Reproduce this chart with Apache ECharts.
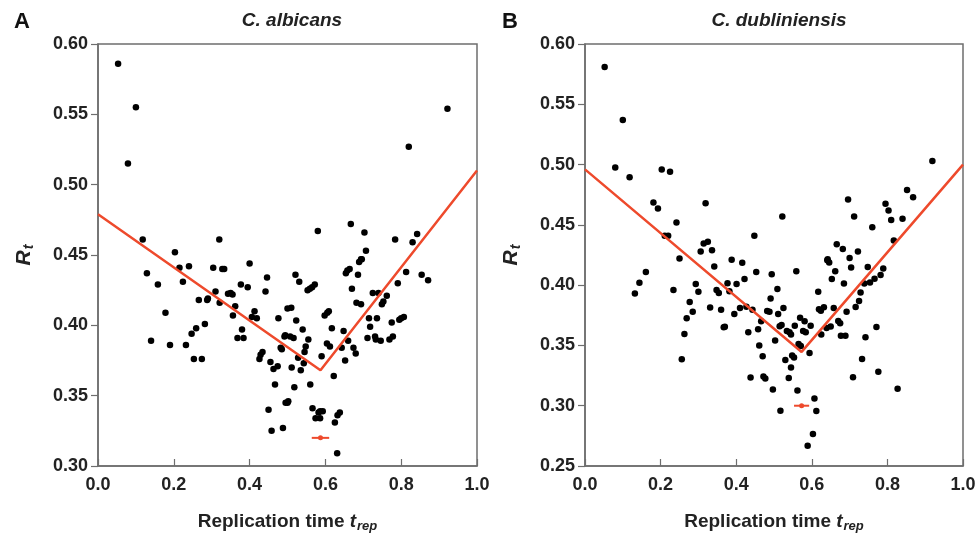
<!DOCTYPE html>
<html>
<head>
<meta charset="utf-8">
<script src="https://cdn.jsdelivr.net/npm/echarts@6/dist/echarts.min.js"></script>
<style>
  html, body { margin: 0; padding: 0; background: #fff; }
  #chart { width: 979px; height: 540px; }
</style>
</head>
<body>
<div id="chart"></div>
<script>
// panel A: C. albicans  [t_rep, R_t]
const albicansPts = [
  [0.053,0.586],[0.10,0.555],[0.079,0.515],[0.118,0.461],[0.203,0.452],[0.32,0.461],
  [0.922,0.554],[0.82,0.527],[0.58,0.467],[0.667,0.472],[0.703,0.466],[0.784,0.461],
  [0.842,0.465],[0.83,0.459],[0.707,0.453],[0.696,0.447],
  [0.129,0.437],[0.215,0.441],[0.24,0.442],[0.224,0.431],[0.158,0.429],[0.304,0.441],
  [0.328,0.440],[0.333,0.440],[0.40,0.444],[0.446,0.434],[0.377,0.429],[0.395,0.427],
  [0.442,0.424],[0.31,0.424],[0.343,0.4225],[0.35,0.423],[0.355,0.422],[0.29,0.419],
  [0.288,0.418],[0.266,0.418],[0.321,0.416],[0.362,0.4135],[0.356,0.407],[0.413,0.410],
  [0.406,0.406],[0.419,0.405],[0.476,0.405],[0.50,0.412],[0.178,0.409],[0.282,0.401],
  [0.259,0.398],[0.247,0.394],[0.38,0.397],[0.368,0.391],[0.384,0.391],[0.14,0.389],
  [0.19,0.386],[0.232,0.386],[0.253,0.376],[0.274,0.376],[0.482,0.384],[0.485,0.383],
  [0.492,0.392],[0.434,0.381],[0.429,0.379],[0.426,0.376],[0.455,0.374],
  [0.463,0.369],[0.474,0.371],[0.467,0.358],[0.495,0.345],[0.45,0.340],[0.458,0.325],
  [0.488,0.327],
  [0.521,0.436],[0.531,0.431],[0.553,0.425],[0.559,0.426],[0.565,0.427],[0.572,0.429],
  [0.51,0.4125],[0.523,0.4035],[0.494,0.393],[0.507,0.392],[0.516,0.391],[0.54,0.397],
  [0.555,0.390],[0.548,0.385],[0.545,0.381],[0.528,0.377],[0.543,0.373],[0.511,0.370],
  [0.535,0.368],[0.56,0.358],[0.518,0.356],[0.50,0.345],[0.502,0.346],[0.566,0.341],
  [0.582,0.338],[0.586,0.339],[0.593,0.339],[0.574,0.334],[0.586,0.334],[0.625,0.331],
  [0.632,0.336],[0.638,0.338],[0.631,0.309],[0.59,0.378],[0.622,0.364],[0.604,0.387],
  [0.612,0.385],[0.598,0.407],[0.605,0.409],[0.609,0.41],[0.617,0.398],[0.643,0.384],
  [0.652,0.375],[0.648,0.396],[0.66,0.389],[0.674,0.384],[0.68,0.380],[0.654,0.437],
  [0.658,0.439],[0.664,0.440],[0.67,0.426],[0.686,0.436],[0.689,0.445],[0.694,0.447],
  [0.682,0.416],[0.694,0.415],[0.715,0.405],[0.718,0.399],[0.711,0.391],[0.736,0.405],
  [0.731,0.392],[0.733,0.39],[0.746,0.389],[0.725,0.423],[0.74,0.423],[0.749,0.415],
  [0.753,0.417],[0.762,0.421],[0.769,0.39],[0.778,0.392],[0.775,0.402],[0.795,0.404],
  [0.80,0.405],[0.807,0.406],[0.791,0.43],[0.813,0.438],[0.854,0.436],[0.871,0.432]
];
const albicansFit = [[0, 0.479], [0.587, 0.368], [1.0, 0.51]];
const albicansErr = { center: 0.587, half: 0.023, y: 0.32 };

// panel B: C. dubliniensis  [t_rep, R_t]
const dubliPts = [
  [0.052,0.581],[0.10,0.537],[0.08,0.4975],[0.118,0.4895],[0.203,0.496],[0.225,0.494],
  [0.181,0.4686],[0.193,0.4635],[0.319,0.468],[0.242,0.452],[0.211,0.441],[0.22,0.441],
  [0.448,0.441],[0.314,0.4345],[0.325,0.436],[0.306,0.428],[0.336,0.429],[0.25,0.422],
  [0.388,0.421],
  [0.919,0.503],[0.522,0.457],[0.696,0.471],[0.712,0.457],[0.795,0.4675],[0.803,0.462],
  [0.81,0.454],[0.84,0.455],[0.852,0.479],[0.868,0.473],[0.76,0.448],[0.817,0.437],
  [0.666,0.434],[0.682,0.430],[0.722,0.428],[0.642,0.4215],[0.70,0.4225],
  [0.132,0.393],[0.144,0.402],[0.161,0.411],[0.234,0.396],[0.342,0.4155],[0.416,0.4185],
  [0.422,0.405],[0.453,0.411],[0.293,0.401],[0.30,0.3945],[0.377,0.4015],[0.401,0.401],
  [0.348,0.396],[0.354,0.3935],[0.382,0.395],[0.277,0.386],[0.285,0.378],[0.269,0.3725],
  [0.331,0.3815],[0.36,0.3795],[0.395,0.376],[0.41,0.381],[0.427,0.382],[0.443,0.3795],
  [0.482,0.3785],[0.466,0.37],[0.367,0.365],[0.37,0.3655],[0.432,0.361],[0.458,0.3635],
  [0.263,0.3595],[0.461,0.35],[0.47,0.341],[0.256,0.3386],[0.438,0.3234],[0.472,0.3242],
  [0.477,0.3226],
  [0.494,0.409],[0.509,0.3967],[0.491,0.389],[0.488,0.378],[0.511,0.376],[0.525,0.381],
  [0.515,0.366],[0.52,0.367],[0.503,0.354],[0.497,0.3135],[0.517,0.2959],[0.53,0.338],
  [0.545,0.3317],[0.548,0.3416],[0.553,0.34],[0.539,0.3229],[0.534,0.362],[0.541,0.361],
  [0.545,0.359],[0.555,0.3664],[0.559,0.4116],[0.569,0.373],[0.581,0.37],[0.577,0.362],
  [0.584,0.361],[0.597,0.3664],[0.565,0.3512],[0.571,0.3496],[0.594,0.3438],[0.562,0.3127],
  [0.607,0.306],[0.612,0.2956],[0.603,0.2766],[0.589,0.2667],[0.617,0.3945],[0.619,0.380],
  [0.624,0.3788],[0.632,0.3816],[0.625,0.359],[0.639,0.3645],[0.65,0.3656],[0.658,0.381],
  [0.67,0.3702],[0.675,0.3683],[0.677,0.358],[0.689,0.358],[0.692,0.378],[0.653,0.405],
  [0.662,0.4116],[0.641,0.4207],[0.646,0.4188],[0.685,0.4014],[0.704,0.4146],[0.748,0.4151],
  [0.739,0.4014],[0.754,0.4022],[0.766,0.4052],[0.782,0.4085],[0.789,0.4138],[0.729,0.394],
  [0.725,0.3868],[0.716,0.3818],[0.771,0.3653],[0.742,0.3568],[0.733,0.3388],[0.709,0.3237],
  [0.776,0.3281],[0.827,0.3140]
];
const dubliFit = [[0, 0.496], [0.573, 0.3446], [1.0, 0.50]];
const dubliErr = { center: 0.573, half: 0.02, y: 0.30 };

const panelTitles = ['C. albicans', 'C. dubliniensis'];
const panelLetters = ['A', 'B'];
const xTicks = ['0.0', '0.2', '0.4', '0.6', '0.8', '1.0'];

const FONT = '"Liberation Sans Narrow", "Liberation Sans", Arial, sans-serif';
const RED = '#ee4a2c';
const AXIS_GREY = '#6e6e6e';

var chart = echarts.init(document.getElementById('chart'));

function xAxisFor(i) {
  return {
    type: 'value', gridIndex: i, min: 0, max: 1, interval: 0.2,
    name: '{n|Replication time }{t|t}{s|rep}',
    nameLocation: 'middle', nameGap: 44,
    nameTextStyle: {
      rich: {
        n: { fontFamily: FONT, fontWeight: 'bold', fontSize: 19, color: '#222' },
        t: { fontFamily: FONT, fontWeight: 'bold', fontStyle: 'italic', fontSize: 19, color: '#222' },
        s: { fontFamily: FONT, fontWeight: 'bold', fontStyle: 'italic', fontSize: 13, color: '#222', padding: [10, 0, 0, 1] }
      }
    },
    axisLine: { onZero: false, lineStyle: { color: AXIS_GREY, width: 1.5 } },
    axisTick: { inside: true, length: 7, lineStyle: { color: AXIS_GREY, width: 1.2 } },
    axisLabel: {
      fontFamily: FONT, fontWeight: 'bold', fontSize: 18, color: '#222', margin: 10,
      formatter: v => xTicks[Math.round(v * 5)]
    },
    splitLine: { show: false }
  };
}

function yAxisFor(i, min, max) {
  return {
    type: 'value', gridIndex: i, min: min, max: max, interval: 0.05,
    name: '{r|R}{s|t}', nameLocation: 'middle', nameGap: 62, nameRotate: 90,
    nameTextStyle: {
      rich: {
        r: { fontFamily: FONT, fontWeight: 'bold', fontStyle: 'italic', fontSize: 21, color: '#222' },
        s: { fontFamily: FONT, fontWeight: 'bold', fontStyle: 'italic', fontSize: 14, color: '#222', padding: [10, 0, 0, 1] }
      }
    },
    axisLine: { onZero: false, lineStyle: { color: AXIS_GREY, width: 1.5 } },
    axisTick: { inside: false, length: 7, lineStyle: { color: AXIS_GREY, width: 1.2 } },
    axisLabel: {
      fontFamily: FONT, fontWeight: 'bold', fontSize: 18, color: '#222', margin: 10,
      formatter: v => v.toFixed(2)
    },
    splitLine: { show: false }
  };
}

function panelSeries(i, pts, fit, err) {
  return [
    {
      type: 'scatter', xAxisIndex: i, yAxisIndex: i, data: pts,
      symbolSize: 6.5, itemStyle: { color: '#000', opacity: 1 }, z: 3
    },
    {
      type: 'line', xAxisIndex: i, yAxisIndex: i, data: fit,
      symbol: 'none', lineStyle: { color: RED, width: 2.5 }, z: 4
    },
    {
      type: 'line', xAxisIndex: i, yAxisIndex: i,
      data: [[err.center - err.half, err.y], [err.center + err.half, err.y]],
      symbol: 'none', lineStyle: { color: RED, width: 2 }, z: 4
    },
    {
      type: 'scatter', xAxisIndex: i, yAxisIndex: i, data: [[err.center, err.y]],
      symbolSize: 5, itemStyle: { color: RED, opacity: 1 }, z: 5
    }
  ];
}

chart.setOption({
  backgroundColor: '#fff',
  animation: false,
  title: [
    { text: panelTitles[0], left: 287, top: 6, textAlign: 'center',
      textStyle: { fontFamily: FONT, fontWeight: 'bold', fontStyle: 'italic', fontSize: 19, color: '#222' } },
    { text: panelTitles[1], left: 774, top: 6, textAlign: 'center',
      textStyle: { fontFamily: FONT, fontWeight: 'bold', fontStyle: 'italic', fontSize: 19, color: '#222' } },
    { text: panelLetters[0], left: 9, top: 6,
      textStyle: { fontFamily: FONT, fontWeight: 'bold', fontSize: 22, color: '#111' } },
    { text: panelLetters[1], left: 497, top: 6,
      textStyle: { fontFamily: FONT, fontWeight: 'bold', fontSize: 22, color: '#111' } }
  ],
  grid: [
    { left: 98, top: 44, width: 379, height: 422, show: true, borderColor: AXIS_GREY, borderWidth: 1.5, backgroundColor: 'transparent' },
    { left: 585, top: 44, width: 378, height: 422, show: true, borderColor: AXIS_GREY, borderWidth: 1.5, backgroundColor: 'transparent' }
  ],
  xAxis: [xAxisFor(0), xAxisFor(1)],
  yAxis: [yAxisFor(0, 0.30, 0.60), yAxisFor(1, 0.25, 0.60)],
  series: [].concat(
    panelSeries(0, albicansPts, albicansFit, albicansErr),
    panelSeries(1, dubliPts, dubliFit, dubliErr)
  )
});
</script>
</body>
</html>
